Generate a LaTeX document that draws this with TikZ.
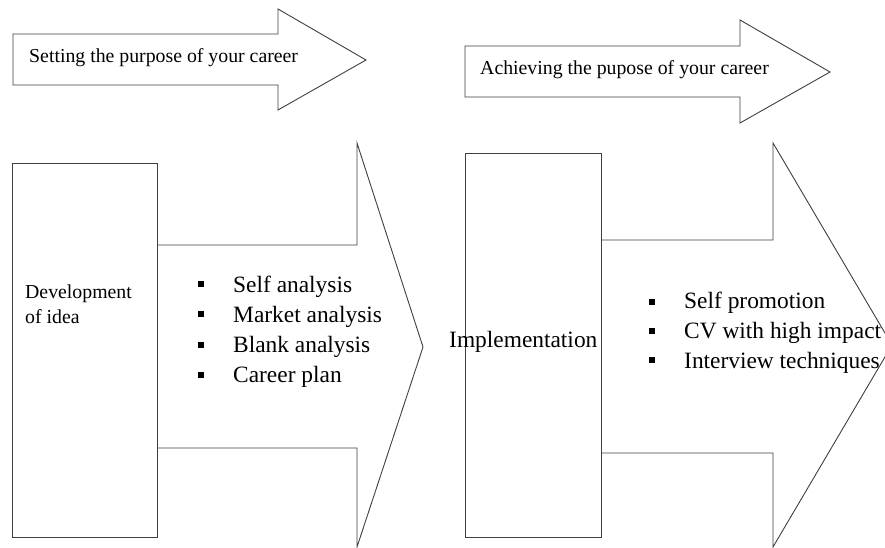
\documentclass[tikz,border=0pt]{standalone}
\usepackage{fontspec}
\setmainfont{Liberation Serif}
\begin{document}
\begin{tikzpicture}[x=1pt,y=-1pt,
  outline/.style={draw=black!75,line width=0.9pt,line join=miter},
  small/.style={font=\fontsize{19.8}{24}\selectfont,inner sep=0pt},
  big/.style={font=\fontsize{23.4}{28}\selectfont,inner sep=0pt},
  sq/.style={fill=black,minimum size=6pt,inner sep=0pt,draw=none}]
\useasboundingbox (0,0) rectangle (885,548);
\clip (0,0) rectangle (885,548);
\fill[white] (0,0) rectangle (885,548);
% top arrows
\draw[outline,fill=white] (13,34) -- (278,34) -- (278,9) -- (366,60) -- (278,110) -- (278,85) -- (13,85) -- cycle;
\node[small,anchor=base west] (t1) at (29,63) {Setting the purpose of your career};
\draw[outline,fill=white] (465,46) -- (740,46) -- (740,20) -- (830,72) -- (740,123) -- (740,97) -- (465,97) -- cycle;
\node[small,anchor=base west] (t2) at (480,75) {Achieving the pupose of your career};
% big arrow 1
\draw[outline,fill=white] (157,245) -- (357,245) -- (357,143) -- (423,347) -- (357,547) -- (357,448) -- (157,448);
\draw[outline,fill=white] (12,163) rectangle (157,537);
\node[small,anchor=base west] (d1) at (25,298) {Development};
\node[small,anchor=base west] (d2) at (25,323) {of idea};
\node[sq] (b1) at (201,284) {};
\node[sq] (b2) at (201,314) {};
\node[sq] (b3) at (201,345) {};
\node[sq] (b4) at (201,375) {};
\node[big,anchor=base west] (l1) at (233,292) {Self analysis};
\node[big,anchor=base west] (l2) at (233,322) {Market analysis};
\node[big,anchor=base west] (l3) at (233,352) {Blank analysis};
\node[big,anchor=base west] (l4) at (233,382) {Career plan};
% big arrow 2
\draw[outline,fill=white] (601,240) -- (773,240) -- (773,143) -- (892,345) -- (773,547) -- (773,453) -- (601,453);
\draw[outline,fill=white] (465,153) rectangle (601,537);
\node[big,anchor=base west] (im) at (449,347) {Implementation};
\node[sq] (c1) at (652,302) {};
\node[sq] (c2) at (652,331) {};
\node[sq] (c3) at (652,360) {};
\node[big,anchor=base west] (m1) at (684,308) {Self promotion};
\node[big,anchor=base west] (m2) at (684,338) {CV with high impact};
\node[big,anchor=base west] (m3) at (684,368) {Interview techniques};
\end{tikzpicture}
\end{document}
